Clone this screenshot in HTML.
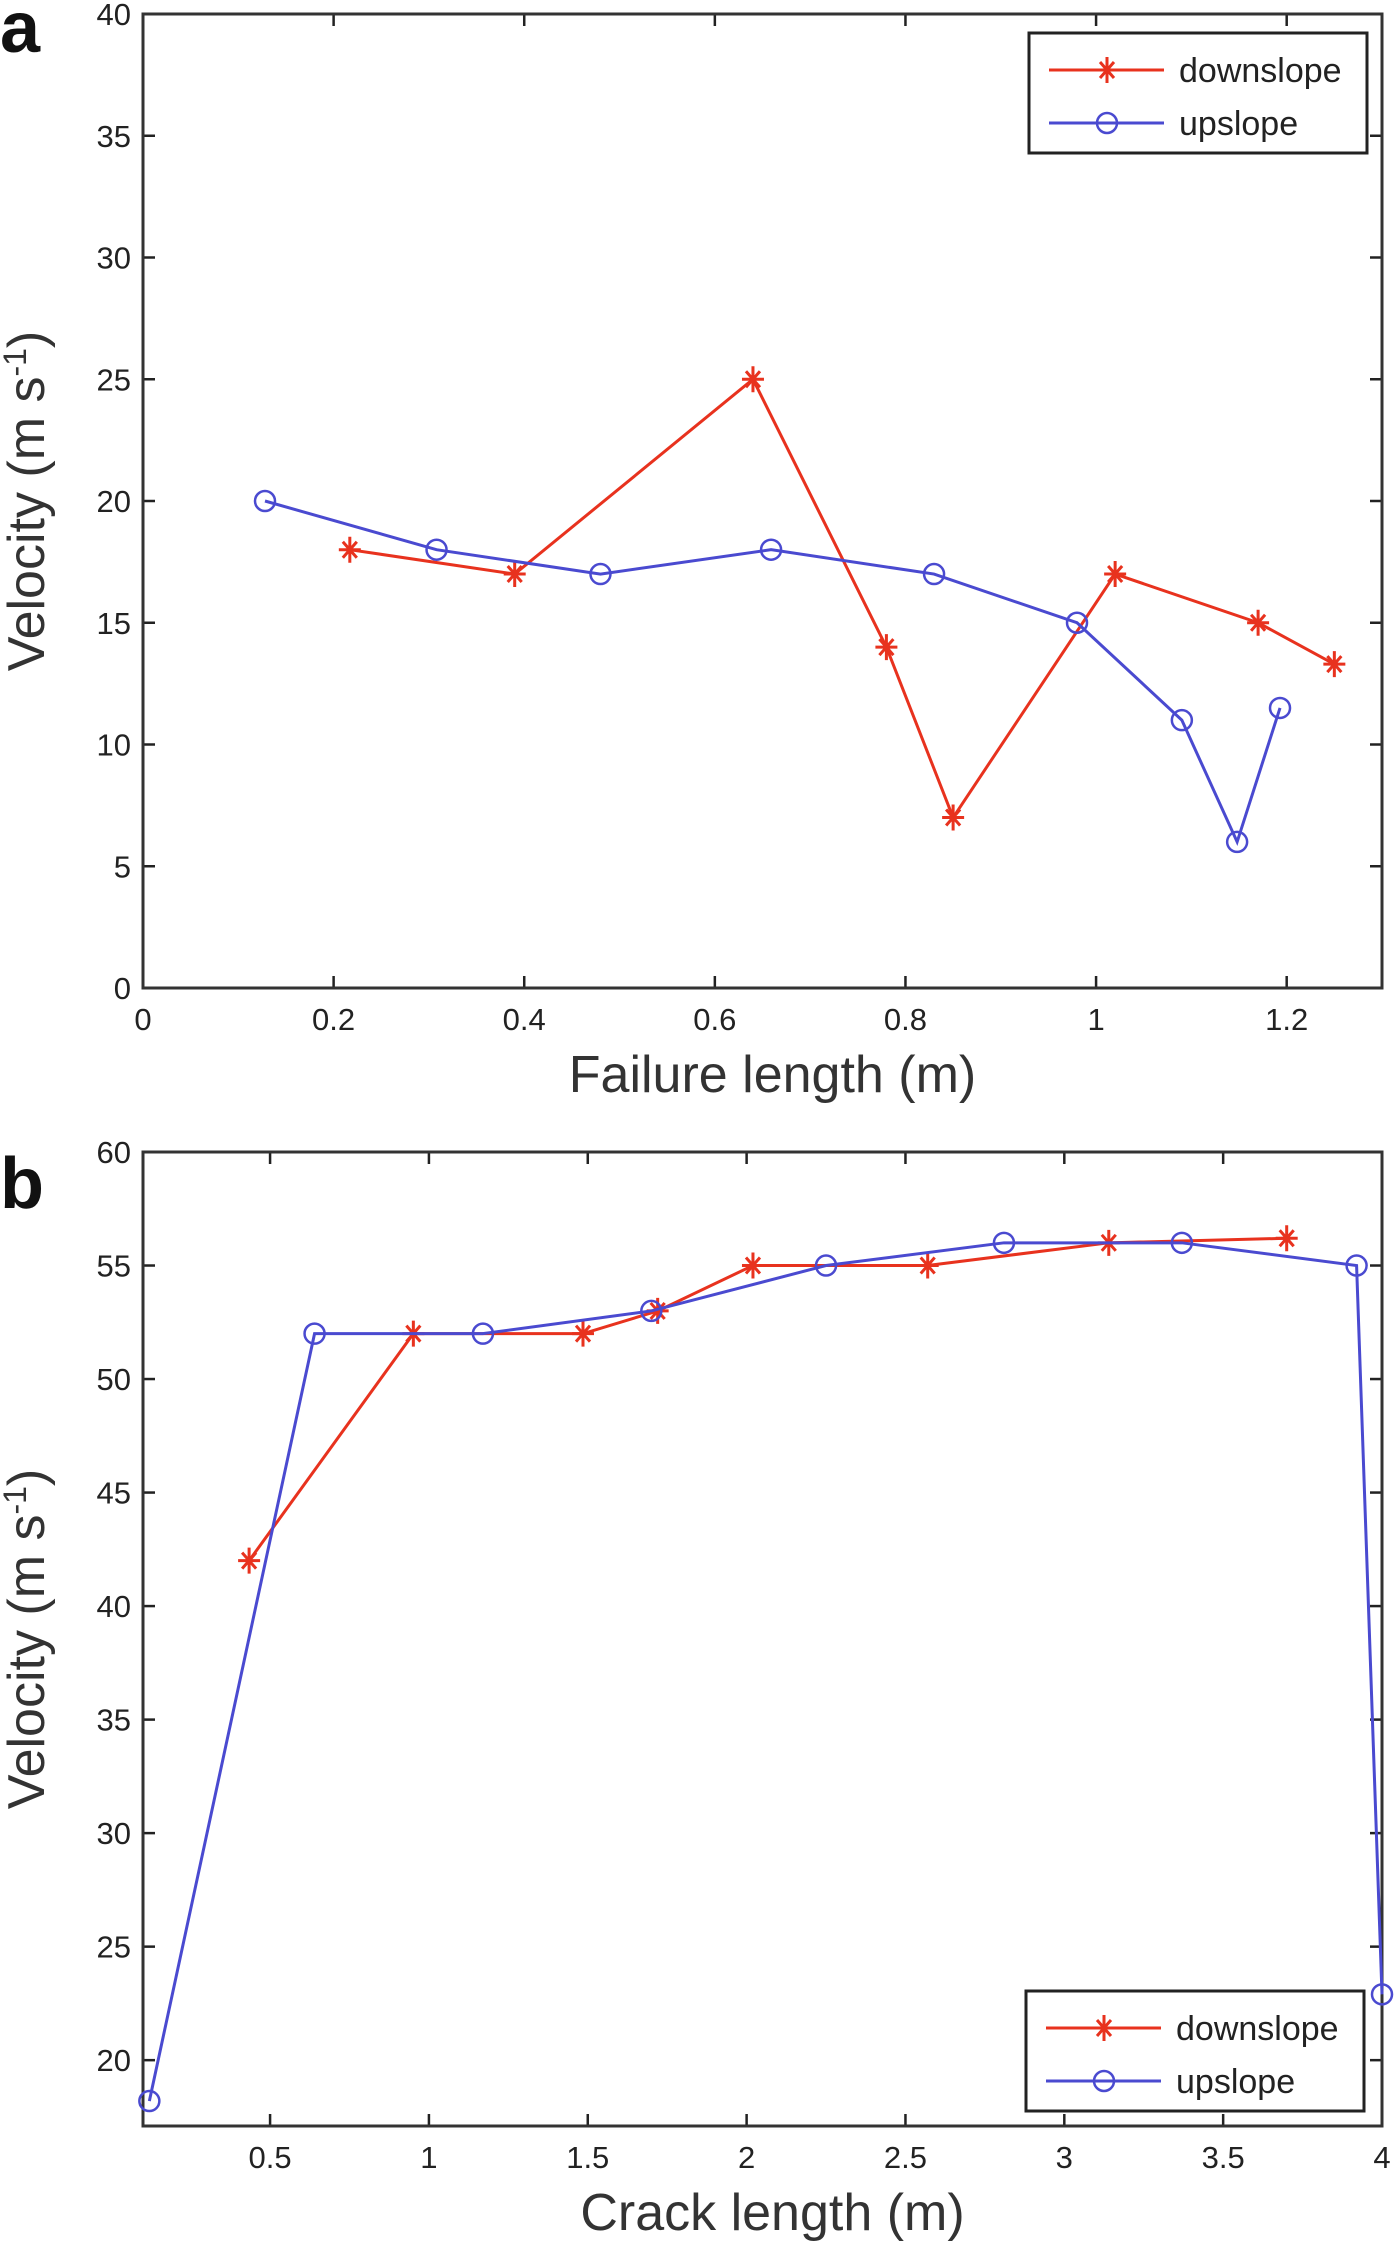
<!DOCTYPE html>
<html><head><meta charset="utf-8">
<style>
html,body{margin:0;padding:0;background:#fff;}
svg{display:block;font-family:"Liberation Sans",sans-serif;}
</style></head>
<body>
<svg id="fig" width="1400" height="2255" viewBox="0 0 1400 2255" xmlns="http://www.w3.org/2000/svg">
<rect width="1400" height="2255" fill="#fff"/>
</svg>
<script>
// Panel a data
const aDownX = [0.217, 0.39, 0.64, 0.78, 0.85, 1.02, 1.17, 1.25];
const aDownY = [18, 17, 25, 14, 7, 17, 15, 13.3];
const aUpX = [0.128, 0.308, 0.48, 0.659, 0.83, 0.98, 1.09, 1.148, 1.193];
const aUpY = [20, 18, 17, 18, 17, 15, 11, 6, 11.5];
const aXTicks = [0, 0.2, 0.4, 0.6, 0.8, 1, 1.2];
const aYTicks = [0, 5, 10, 15, 20, 25, 30, 35, 40];
// Panel b data
const bDownX = [0.434, 0.951, 1.485, 1.72, 2.02, 2.57, 3.14, 3.70];
const bDownY = [42, 52, 52, 53, 55, 55, 56, 56.2];
const bUpX = [0.12, 0.64, 1.17, 1.70, 2.25, 2.81, 3.37, 3.92, 4.0];
const bUpY = [18.2, 52, 52, 53, 55, 56, 56, 55, 22.9];
const bXTicks = [0.5, 1, 1.5, 2, 2.5, 3, 3.5, 4];
const bYTicks = [20, 25, 30, 35, 40, 45, 50, 55, 60];

const NS = "http://www.w3.org/2000/svg";
const svg = document.getElementById('fig');
function mk(tag, attrs, parent) {
  const e = document.createElementNS(NS, tag);
  for (const k in attrs) e.setAttribute(k, attrs[k]);
  (parent || svg).appendChild(e);
  return e;
}
function panel(p) {
  const g = mk('g', {});
  
  
  const sx = v => p.L + (v - p.x0) / (p.x1 - p.x0) * (p.R - p.L);
  const sy = v => p.B - (v - p.y0) / (p.y1 - p.y0) * (p.B - p.T);
  p.xt.forEach(t => {
    const x = sx(t);
    mk('line', {x1: x, x2: x, y1: p.B, y2: p.B - 12, stroke: '#222', 'stroke-width': 2.5}, g);
    mk('line', {x1: x, x2: x, y1: p.T, y2: p.T + 12, stroke: '#222', 'stroke-width': 2.5}, g);
    const tx = mk('text', {x: x, y: p.B + 42, 'font-size': 31, 'text-anchor': 'middle', fill: '#222'}, g);
    tx.textContent = String(t);
    
    
  });
  p.yt.forEach(t => {
    const y = sy(t);
    mk('line', {x1: p.L, x2: p.L + 12, y1: y, y2: y, stroke: '#222', 'stroke-width': 2.5}, g);
    mk('line', {x1: p.R, x2: p.R - 12, y1: y, y2: y, stroke: '#222', 'stroke-width': 2.5}, g);
    const ty = mk('text', {x: p.L - 12, y: y + 11, 'font-size': 31, 'text-anchor': 'end', fill: '#222'}, g);
    ty.textContent = String(t);
    
    
  });
  const box = mk('rect', {x: p.L, y: p.T, width: p.R - p.L, height: p.B - p.T, fill: 'none', stroke: '#333', 'stroke-width': 3}, g);
  
  
  function series(xs, ys, color, marker, nm) {
    const pts = xs.map((x, i) => sx(x) + ',' + sy(ys[i])).join(' ');
    const pl = mk('polyline', {points: pts, fill: 'none', stroke: color, 'stroke-width': 3}, g);
    
    
    xs.forEach((x, i) => drawMarker(g, sx(x), sy(ys[i]), color, marker, nm));
  }
  series(p.dx, p.dy, '#e8321e', 'star', 'downslope');
  series(p.ux, p.uy, '#4a4ad0', 'circle', 'upslope');
  const xl = mk('text', {x: (p.L + p.R) / 2 + 10, y: p.B + 104, 'font-size': 52, 'text-anchor': 'middle', fill: '#333'}, g);
  xl.textContent = p.xlabel;
  
  
  const cy = (p.T + p.B) / 2;
  const yl = mk('text', {x: 0, y: 0, 'font-size': 52, 'text-anchor': 'middle', fill: '#333', transform: `translate(44,${cy}) rotate(-90)`}, g);
  yl.innerHTML = 'Velocity (m s<tspan dy="-18" font-size="32">-1</tspan><tspan dy="18">)</tspan>';
  
  
  const pl = mk('text', {x: 0, y: p.letterY, 'font-size': 72, 'font-weight': 'bold', fill: '#111'}, g);
  pl.textContent = p.letter;
  
  
  const lg = mk('g', {}, g);
  
  
  mk('rect', {x: p.lx, y: p.ly, width: 338, height: 120, fill: '#fff', stroke: '#222', 'stroke-width': 3}, lg);
  [['downslope', '#e8321e', 'star', 37], ['upslope', '#4a4ad0', 'circle', 90]].forEach(([n, c, m, dy]) => {
    const y = p.ly + dy;
    mk('line', {x1: p.lx + 20, x2: p.lx + 135, y1: y, y2: y, stroke: c, 'stroke-width': 3}, lg);
    drawMarker(lg, p.lx + 78, y, c, m, 'legend');
    const t = mk('text', {x: p.lx + 150, y: y + 12, 'font-size': 34, fill: '#222'}, lg);
    t.textContent = n;
    
    
  });
}
function drawMarker(g, x, y, c, m, nm) {
  let e;
  if (m === 'circle') {
    e = mk('circle', {cx: x, cy: y, r: 10, fill: 'none', stroke: c, 'stroke-width': 2.5}, g);
  } else {
    e = mk('path', {d: `M${x-11},${y}H${x+11}M${x},${y-13}V${y+13}M${x-7},${y-8}L${x+7},${y+8}M${x-7},${y+8}L${x+7},${y-8}`, stroke: c, 'stroke-width': 3, fill: 'none'}, g);
  }
  
  
}
panel({name: 'panel-a', L: 143, R: 1382, T: 14, B: 988, x0: 0, x1: 1.3, y0: 0, y1: 40,
  xt: aXTicks, yt: aYTicks, dx: aDownX, dy: aDownY, ux: aUpX, uy: aUpY,
  xlabel: 'Failure length (m)', letter: 'a', letterY: 52, lx: 1029, ly: 33});
panel({name: 'panel-b', L: 143, R: 1382, T: 1152, B: 2126, x0: 0.1, x1: 4, y0: 17.1, y1: 60,
  xt: bXTicks, yt: bYTicks, dx: bDownX, dy: bDownY, ux: bUpX, uy: bUpY,
  xlabel: 'Crack length (m)', letter: 'b', letterY: 1208, lx: 1026, ly: 1991});
</script>
</body></html>
